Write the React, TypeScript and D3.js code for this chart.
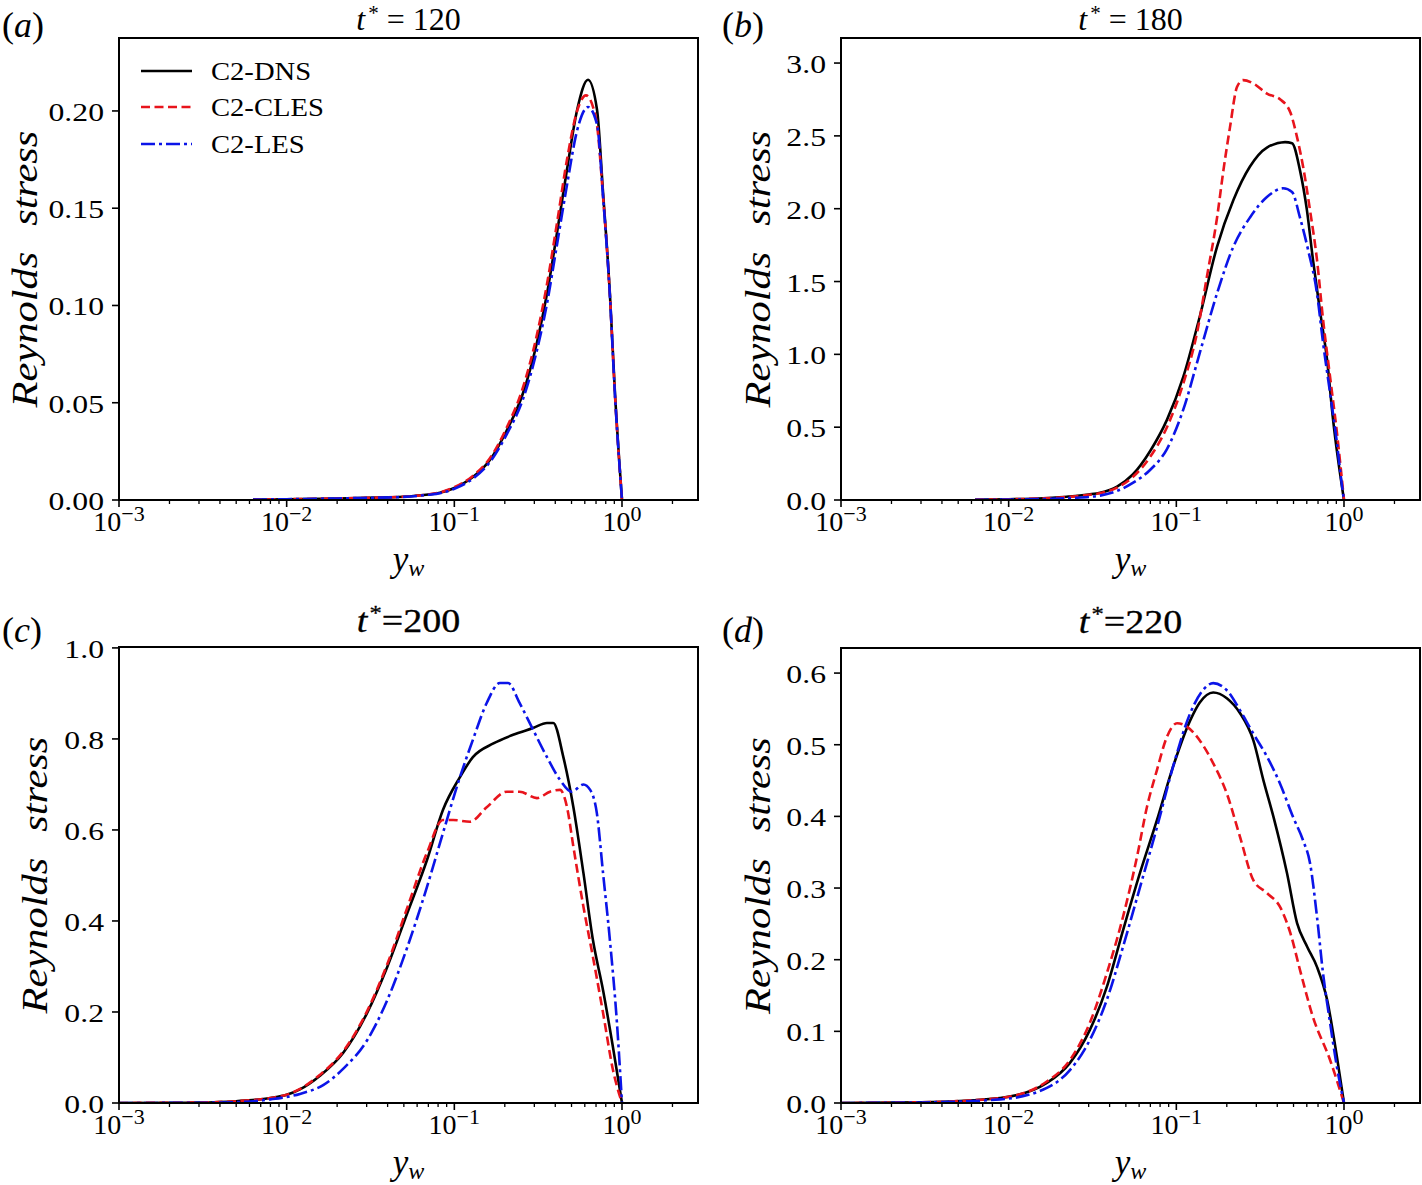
import React from 'react';
import * as d3 from 'd3';

// ---------------- data ----------------
const seriesNames = ['C2-DNS', 'C2-CLES', 'C2-LES'];
const panelLetters = ['a', 'b', 'c', 'd'];
const panelTimes = ['120', '180', '200', '220'];

// (a) t* = 120
const aDnsX = [0.0063, 0.01, 0.02, 0.03, 0.05, 0.07, 0.082, 0.1, 0.129, 0.163, 0.206, 0.257, 0.311, 0.357, 0.409, 0.47, 0.54, 0.627, 0.71, 0.771, 0.847, 0.908, 1.0];
const aDnsY = [0.0002, 0.0004, 0.0008, 0.0011, 0.0017, 0.0028, 0.0037, 0.0062, 0.0118, 0.0206, 0.036, 0.055, 0.081, 0.106, 0.137, 0.17, 0.2005, 0.216, 0.2005, 0.158, 0.106, 0.055, 0];
const aClesX = [0.0063, 0.01, 0.02, 0.03, 0.05, 0.07, 0.082, 0.1, 0.129, 0.163, 0.206, 0.257, 0.311, 0.357, 0.409, 0.47, 0.54, 0.61, 0.7, 0.771, 0.847, 0.908, 1.0];
const aClesY = [0.0002, 0.0004, 0.0008, 0.0011, 0.0017, 0.0029, 0.0039, 0.0066, 0.0124, 0.0215, 0.0375, 0.058, 0.085, 0.111, 0.142, 0.175, 0.2, 0.208, 0.196, 0.156, 0.105, 0.054, 0];
const aLesX = [0.0063, 0.01, 0.02, 0.03, 0.05, 0.07, 0.082, 0.1, 0.129, 0.163, 0.206, 0.257, 0.311, 0.357, 0.409, 0.47, 0.54, 0.627, 0.71, 0.771, 0.847, 0.908, 1.0];
const aLesY = [0.0002, 0.0004, 0.0008, 0.0011, 0.0016, 0.0027, 0.0035, 0.0058, 0.011, 0.0195, 0.034, 0.052, 0.077, 0.101, 0.131, 0.162, 0.19, 0.202, 0.193, 0.156, 0.105, 0.054, 0];

// (b) t* = 180
const bDnsX = [0.0063, 0.01, 0.015, 0.02, 0.025, 0.03, 0.0351, 0.0443, 0.055, 0.0697, 0.0879, 0.11, 0.138, 0.175, 0.219, 0.275, 0.347, 0.445, 0.49, 0.546, 0.601, 0.653, 0.719, 0.793, 0.861, 1.0];
const bDnsY = [0.002, 0.005, 0.01, 0.018, 0.027, 0.038, 0.05, 0.092, 0.175, 0.335, 0.55, 0.845, 1.26, 1.74, 2.06, 2.29, 2.42, 2.457, 2.45, 2.265, 1.99, 1.65, 1.3, 0.96, 0.55, 0];
const bClesX = [0.0063, 0.01, 0.015, 0.02, 0.025, 0.03, 0.0351, 0.0443, 0.055, 0.0697, 0.0879, 0.11, 0.133, 0.152, 0.175, 0.191, 0.209, 0.23, 0.25, 0.288, 0.347, 0.417, 0.479, 0.525, 0.57, 0.627, 0.69, 0.75, 0.826, 0.908, 1.0];
const bClesY = [0.002, 0.005, 0.01, 0.017, 0.025, 0.035, 0.046, 0.085, 0.158, 0.295, 0.5, 0.8, 1.15, 1.53, 1.94, 2.265, 2.56, 2.835, 2.883, 2.86, 2.79, 2.75, 2.66, 2.49, 2.29, 1.99, 1.65, 1.24, 0.845, 0.46, 0];
const bLesX = [0.0063, 0.01, 0.015, 0.02, 0.025, 0.03, 0.0351, 0.0443, 0.055, 0.0697, 0.0879, 0.11, 0.138, 0.175, 0.219, 0.275, 0.347, 0.433, 0.49, 0.546, 0.61, 0.69, 0.75, 0.826, 0.908, 0.96, 1.0];
const bLesY = [0.001, 0.003, 0.006, 0.01, 0.015, 0.021, 0.03, 0.062, 0.117, 0.206, 0.35, 0.62, 1.01, 1.42, 1.74, 1.94, 2.08, 2.14, 2.115, 1.94, 1.72, 1.42, 1.08, 0.735, 0.39, 0.15, 0];

// (c) t* = 200
const cDnsX = [0.001, 0.002, 0.003, 0.005, 0.008, 0.01, 0.012, 0.0158, 0.0217, 0.0302, 0.0398, 0.0525, 0.0687, 0.0855, 0.108, 0.129, 0.171, 0.224, 0.295, 0.357, 0.389, 0.447, 0.513, 0.589, 0.671, 0.771, 0.883, 1.0];
const cDnsY = [0, 0.0005, 0.001, 0.004, 0.011, 0.018, 0.03, 0.06, 0.11, 0.198, 0.299, 0.418, 0.534, 0.644, 0.716, 0.76, 0.79, 0.809, 0.824, 0.835, 0.835, 0.76, 0.65, 0.505, 0.358, 0.248, 0.123, 0];
const cClesX = [0.001, 0.002, 0.003, 0.005, 0.008, 0.01, 0.012, 0.0158, 0.0217, 0.0302, 0.0398, 0.0525, 0.0687, 0.0855, 0.0982, 0.124, 0.156, 0.206, 0.245, 0.311, 0.372, 0.427, 0.47, 0.513, 0.589, 0.671, 0.771, 0.883, 1.0];
const cClesY = [0, 0.0005, 0.001, 0.004, 0.011, 0.018, 0.031, 0.062, 0.113, 0.202, 0.305, 0.43, 0.55, 0.622, 0.622, 0.618, 0.65, 0.684, 0.684, 0.67, 0.684, 0.688, 0.65, 0.563, 0.431, 0.321, 0.198, 0.073, 0];
const cLesX = [0.001, 0.003, 0.005, 0.008, 0.012, 0.0166, 0.0217, 0.0302, 0.0398, 0.0525, 0.0687, 0.0855, 0.108, 0.129, 0.156, 0.187, 0.209, 0.245, 0.295, 0.357, 0.427, 0.501, 0.589, 0.646, 0.708, 0.771, 0.847, 0.933, 1.0];
const cLesY = [0, 0.0005, 0.002, 0.008, 0.02, 0.04, 0.075, 0.138, 0.226, 0.343, 0.475, 0.593, 0.716, 0.798, 0.879, 0.923, 0.923, 0.879, 0.82, 0.76, 0.71, 0.684, 0.7, 0.688, 0.637, 0.505, 0.358, 0.176, 0];

// (d) t* = 220
const dDnsX = [0.001, 0.003, 0.0089, 0.0169, 0.0232, 0.0305, 0.0385, 0.0481, 0.0607, 0.0767, 0.0955, 0.121, 0.138, 0.166, 0.2, 0.24, 0.288, 0.331, 0.38, 0.457, 0.525, 0.603, 0.69, 0.793, 0.908, 1.0];
const dDnsY = [0, 0.001, 0.007, 0.028, 0.056, 0.102, 0.162, 0.241, 0.321, 0.395, 0.469, 0.534, 0.559, 0.573, 0.565, 0.544, 0.506, 0.45, 0.399, 0.321, 0.251, 0.218, 0.19, 0.144, 0.064, 0];
const dClesX = [0.001, 0.003, 0.0089, 0.0169, 0.0232, 0.0305, 0.0385, 0.0481, 0.0582, 0.0668, 0.0767, 0.0879, 0.101, 0.116, 0.138, 0.166, 0.2, 0.24, 0.288, 0.347, 0.417, 0.479, 0.546, 0.653, 0.826, 1.0];
const dClesY = [0, 0.001, 0.007, 0.03, 0.06, 0.112, 0.181, 0.26, 0.343, 0.413, 0.465, 0.511, 0.53, 0.525, 0.506, 0.474, 0.432, 0.371, 0.311, 0.293, 0.273, 0.237, 0.186, 0.12, 0.06, 0];
const dLesX = [0.001, 0.003, 0.0089, 0.0169, 0.0232, 0.0305, 0.0385, 0.0481, 0.0607, 0.0767, 0.0955, 0.121, 0.144, 0.166, 0.2, 0.24, 0.287, 0.348, 0.415, 0.497, 0.569, 0.627, 0.69, 0.75, 0.826, 0.908, 1.0];
const dLesY = [0, 0.0008, 0.005, 0.021, 0.046, 0.088, 0.144, 0.218, 0.301, 0.385, 0.469, 0.544, 0.576, 0.586, 0.576, 0.548, 0.516, 0.483, 0.446, 0.399, 0.367, 0.335, 0.26, 0.181, 0.112, 0.05, 0];

// axis ticks
const yTicksA = [0, 0.05, 0.1, 0.15, 0.2];
const yTicksB = [0, 0.5, 1.0, 1.5, 2.0, 2.5, 3.0];
const yTicksC = [0, 0.2, 0.4, 0.6, 0.8, 1.0];
const yTicksD = [0, 0.1, 0.2, 0.3, 0.4, 0.5, 0.6];
const yMaxes = [0.2375, 3.172, 1.002, 0.635];
const xMajorTicks = [1e-3, 1e-2, 1e-1, 1e0];
const xTickExps = ['\u22123', '\u22122', '\u22121', '0'];
const xDomain = [1e-3, 2.84];

// ---------------- styling / layout ----------------
const W = 1422;
const H = 1185;
const SERIF = '"Liberation Serif", "Times New Roman", serif';
const seriesStyle = [
  { color: '#000000', dash: 'none', width: 2.6 },
  { color: '#e8141c', dash: '9,4.5', width: 2.6 },
  { color: '#0b14e8', dash: '14,4,3,4', width: 2.6 },
];
const boxes = [
  { left: 119, right: 698, top: 38, bottom: 500 },
  { left: 841, right: 1420, top: 38, bottom: 500 },
  { left: 119, right: 698, top: 647, bottom: 1103 },
  { left: 841, right: 1420, top: 648, bottom: 1103 },
];
const yLabelX = [37, 770, 47, 770];
const panelLabelPos = [[2, 37], [722, 37], [2, 642], [722, 642]];

const panelSeries = [
  [[aDnsX, aDnsY], [aClesX, aClesY], [aLesX, aLesY]],
  [[bDnsX, bDnsY], [bClesX, bClesY], [bLesX, bLesY]],
  [[cDnsX, cDnsY], [cClesX, cClesY], [cLesX, cLesY]],
  [[dDnsX, dDnsY], [dClesX, dClesY], [dLesX, dLesY]],
];
const panelYTicks = [yTicksA, yTicksB, yTicksC, yTicksD];
const panelFmt = ['.2f', '.1f', '.1f', '.1f'];

function minorTicks(): number[] {
  const out: number[] = [];
  for (let e = -3; e <= 0; e++) {
    for (let k = 2; k <= 9; k++) {
      const v = k * Math.pow(10, e);
      if (v <= xDomain[1]) out.push(v);
    }
  }
  return out;
}

function Panel({ i }: { i: number }) {
  const b = boxes[i];
  const x = d3.scaleLog().domain(xDomain).range([b.left, b.right]);
  const y = d3.scaleLinear().domain([0, yMaxes[i]]).range([b.bottom, b.top]);
  const line = d3
    .line<[number, number]>()
    .x((d) => x(d[0]))
    .y((d) => y(d[1]))
    .curve(d3.curveMonotoneX);
  const fmt = d3.format(panelFmt[i]);
  const cx = (b.left + b.right) / 2;
  const cy = (b.top + b.bottom) / 2;
  const clipId = `clip-${i}`;
  const spaced = i < 2;
  return (
    <g>
      <defs>
        <clipPath id={clipId}>
          <rect x={b.left} y={b.top - 2} width={b.right - b.left} height={b.bottom - b.top + 2} />
        </clipPath>
      </defs>
      <g clipPath={`url(#${clipId})`}>
        {panelSeries[i].map((s, k) => (
          <path
            key={k}
            d={line(d3.zip(s[0], s[1]) as [number, number][]) || ''}
            fill="none"
            stroke={seriesStyle[k].color}
            strokeWidth={seriesStyle[k].width}
            strokeDasharray={seriesStyle[k].dash}
            strokeLinejoin="round"
          />
        ))}
      </g>
      <rect x={b.left} y={b.top} width={b.right - b.left} height={b.bottom - b.top} fill="none" stroke="#000" strokeWidth={2} />
      {/* y ticks */}
      {panelYTicks[i].map((t) => (
        <g key={t}>
          <line x1={b.left - 7} x2={b.left} y1={y(t)} y2={y(t)} stroke="#000" strokeWidth={1.6} />
          <text
            transform={`translate(${b.left - 15},${y(t) + 10}) scale(1.22,1)`}
            textAnchor="end"
            fontFamily={SERIF}
            fontSize={26}
          >
            {fmt(t)}
          </text>
        </g>
      ))}
      {/* x ticks */}
      {minorTicks().map((t) => (
        <line key={`m${t}`} x1={x(t)} x2={x(t)} y1={b.bottom} y2={b.bottom + 4} stroke="#000" strokeWidth={1.3} />
      ))}
      {xMajorTicks.map((t, k) => (
        <g key={`M${t}`}>
          <line x1={x(t)} x2={x(t)} y1={b.bottom} y2={b.bottom + 7} stroke="#000" strokeWidth={1.6} />
          <text x={x(t)} y={b.bottom + 31} textAnchor="middle" fontFamily={SERIF} fontSize={28}>
            10
            <tspan dy={-10} fontSize={22}>
              {xTickExps[k]}
            </tspan>
          </text>
        </g>
      ))}
      {/* x label */}
      <text x={cx} y={b.bottom + 71} textAnchor="middle" fontFamily={SERIF} fontSize={35} fontStyle="italic">
        y
        <tspan dy={5} fontSize={24}>
          w
        </tspan>
      </text>
      {/* y label */}
      <text
        transform={`translate(${yLabelX[i]},${cy}) rotate(-90) scale(1.18,1)`}
        textAnchor="middle"
        fontFamily={SERIF}
        fontSize={36}
        fontStyle="italic"
      >
        <tspan>Reynolds</tspan>
        <tspan dx={22}>stress</tspan>
      </text>
      {/* title */}
      {spaced ? (
        <text x={cx} y={b.top - 8} textAnchor="middle" fontFamily={SERIF} fontSize={32}>
          <tspan fontStyle="italic">t</tspan>
          <tspan dx={3} dy={-10} fontSize={21}>
            *
          </tspan>
          <tspan dy={10}>{` = ${panelTimes[i]}`}</tspan>
        </text>
      ) : (
        <text
          transform={`translate(${cx},${b.top - 15}) scale(1.12,1)`}
          textAnchor="middle"
          fontFamily={SERIF}
          fontSize={34}
          stroke="#000"
          strokeWidth={0.3}
        >
          <tspan fontStyle="italic">t</tspan>
          <tspan dx={2} dy={-12} fontSize={22}>
            *
          </tspan>
          <tspan dy={12}>{`=${panelTimes[i]}`}</tspan>
        </text>
      )}
      {/* panel label */}
      <text x={panelLabelPos[i][0]} y={panelLabelPos[i][1]} fontFamily={SERIF} fontSize={36}>
        (<tspan fontStyle="italic">{panelLetters[i]}</tspan>)
      </text>
    </g>
  );
}

function Legend() {
  const x0 = 141;
  const x1 = 192;
  const ys = [71, 107, 144];
  return (
    <g>
      {seriesNames.map((n, k) => (
        <g key={n}>
          <line
            x1={x0}
            x2={x1}
            y1={ys[k]}
            y2={ys[k]}
            stroke={seriesStyle[k].color}
            strokeWidth={seriesStyle[k].width}
            strokeDasharray={seriesStyle[k].dash}
          />
          <text transform={`translate(211,${ys[k] + 9}) scale(1.1,1)`} fontFamily={SERIF} fontSize={26}>
            {n}
          </text>
        </g>
      ))}
    </g>
  );
}

export default function App() {
  return (
    <svg
      width={W}
      height={H}
      viewBox={`0 0 ${W} ${H}`}
      style={{ position: 'absolute', left: 0, top: 0, background: '#fff' }}
    >
      <rect x={0} y={0} width={W} height={H} fill="#fff" />
      {[0, 1, 2, 3].map((i) => (
        <Panel key={i} i={i} />
      ))}
      <Legend />
    </svg>
  );
}
